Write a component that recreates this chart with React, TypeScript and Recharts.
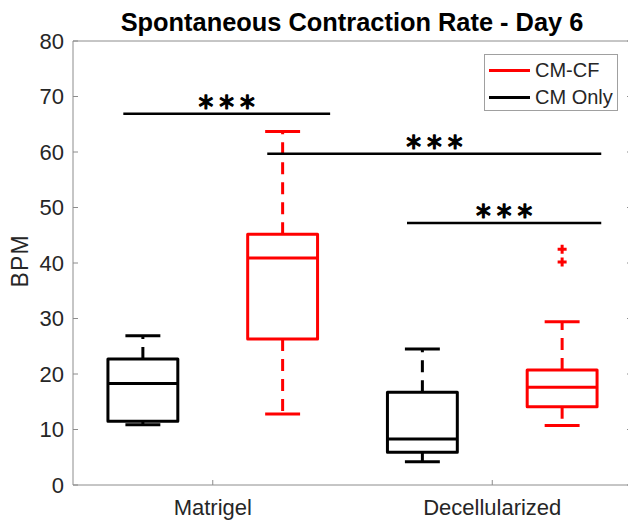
import React from 'react';
import {
  ComposedChart,
  XAxis,
  YAxis,
  ReferenceArea,
  ReferenceLine,
  ReferenceDot,
  Legend,
  Customized,
} from 'recharts';

// ---------- data ----------
const categories = ['Matrigel', 'Decellularized'];
const seriesNames = ['CM-CF', 'CM Only'];
const seriesColors = ['#ff0000', '#000000'];

// CM Only (black) box statistics per category
const cmOnlyMin = [10.85, 4.2];
const cmOnlyQ1 = [11.5, 5.9];
const cmOnlyMedian = [18.3, 8.3];
const cmOnlyQ3 = [22.7, 16.7];
const cmOnlyMax = [26.9, 24.5];
const cmOnlyOutliers: number[][] = [[], []];

// CM-CF (red) box statistics per category
const cmcfMin = [12.8, 10.7];
const cmcfQ1 = [26.3, 14.1];
const cmcfMedian = [40.9, 17.6];
const cmcfQ3 = [45.2, 20.7];
const cmcfMax = [63.7, 29.4];
const cmcfOutliers: number[][] = [[], [40.2, 42.5]];

const yTicks = [0, 10, 20, 30, 40, 50, 60, 70, 80];

// significance bars
const sigY = [66.9, 59.7, 47.2];
const sigFrom = [0.86, 1.89, 2.89];
const sigTo = [2.34, 4.28, 4.28];
const sigLabels = ['***', '***', '***'];

const FONT = 'Liberation Sans, Arial, Helvetica, sans-serif';
const AXIS_COLOR = '#8c8c8c';
const TEXT_COLOR = '#262626';
const BOX_HALF = 0.25;
const CAP_HALF = 0.125;

type Box = {
  pos: number;
  color: string;
  min: number;
  q1: number;
  med: number;
  q3: number;
  max: number;
  outliers: number[];
};

const boxes: Box[] = [];
categories.forEach((_, g) => {
  boxes.push({
    pos: 2 * g + 1,
    color: seriesColors[1],
    min: cmOnlyMin[g],
    q1: cmOnlyQ1[g],
    med: cmOnlyMedian[g],
    q3: cmOnlyQ3[g],
    max: cmOnlyMax[g],
    outliers: cmOnlyOutliers[g],
  });
  boxes.push({
    pos: 2 * g + 2,
    color: seriesColors[0],
    min: cmcfMin[g],
    q1: cmcfQ1[g],
    med: cmcfMedian[g],
    q3: cmcfQ3[g],
    max: cmcfMax[g],
    outliers: cmcfOutliers[g],
  });
});

const catTicks = categories.map((_, g) => 2 * g + 1.5);

const BottomTick = (props: any) => {
  const { x, y, payload } = props;
  const idx = Math.round((payload.value - 1.5) / 2);
  return (
    <g>
      <line x1={x} x2={x} y1={y} y2={y - 5} stroke={AXIS_COLOR} strokeWidth={1} />
      <text
        x={x}
        y={y + 30}
        textAnchor="middle"
        fontFamily={FONT}
        fontSize={22}
        fill={TEXT_COLOR}
      >
        {categories[idx]}
      </text>
    </g>
  );
};

const TopTick = (props: any) => {
  const { x, y } = props;
  return <line x1={x} x2={x} y1={y} y2={y + 5} stroke={AXIS_COLOR} strokeWidth={1} />;
};

const LeftTick = (props: any) => {
  const { x, y, payload } = props;
  return (
    <g>
      <line x1={x} x2={x + 5} y1={y} y2={y} stroke={AXIS_COLOR} strokeWidth={1} />
      <text
        x={x - 9}
        y={y}
        dy="0.36em"
        textAnchor="end"
        fontFamily={FONT}
        fontSize={22}
        fill={TEXT_COLOR}
      >
        {payload.value}
      </text>
    </g>
  );
};

const RightTick = (props: any) => {
  const { x, y } = props;
  return <line x1={x - 5} x2={x} y1={y} y2={y} stroke={AXIS_COLOR} strokeWidth={1} />;
};

const makeStarLabel = (text: string) => (props: any) => {
  const vb = props.viewBox || {};
  const cx = (vb.x || 0) + (vb.width || 0) / 2;
  const cy = vb.y || 0;
  return (
    <text
      x={cx + 3}
      y={cy + 3.3}
      textAnchor="middle"
      fontFamily="DejaVu Sans, sans-serif"
      fontSize={29.5}
      letterSpacing={6}
      fill="#000"
      stroke="#000"
      strokeWidth={1.3}
      strokeLinejoin="round"
    >
      {text}
    </text>
  );
};

const PlusShape = (props: any) => {
  const { cx, cy, fill } = props;
  return (
    <path
      d={`M${cx - 4.5},${cy}H${cx + 4.5}M${cx},${cy - 4.5}V${cy + 4.5}`}
      stroke={fill}
      strokeWidth={3}
      fill="none"
    />
  );
};

const LegendContent = () => (
  <div
    style={{
      position: 'relative',
      width: 134,
      height: 57,
      boxSizing: 'border-box',
      border: '1px solid #a0a0a0',
      background: '#fff',
      fontFamily: FONT,
      fontSize: 20,
      color: TEXT_COLOR,
    }}
  >
    {seriesNames.map((name, i) => (
      <div
        key={name}
        style={{
          position: 'absolute',
          left: 4,
          top: i === 0 ? 3 : 30,
          height: 24,
          display: 'flex',
          alignItems: 'center',
          whiteSpace: 'nowrap',
        }}
      >
        <div style={{ width: 41, height: 3, background: seriesColors[i], marginRight: 5 }} />
        <span style={{ lineHeight: '24px' }}>{name}</span>
      </div>
    ))}
  </div>
);

const Title = () => (
  <g>
    <text
      x={352}
      y={31}
      textAnchor="middle"
      fontFamily={FONT}
      fontWeight="bold"
      fontSize={25.4}
      fill="#000"
    >
      Spontaneous Contraction Rate - Day 6
    </text>
    <text
      transform="translate(27.5,260.8) rotate(-90)"
      x={0}
      y={0}
      textAnchor="middle"
      fontFamily={FONT}
      fontSize={23}
      letterSpacing={1.2}
      fill={TEXT_COLOR}
    >
      BPM
    </text>
  </g>
);

export default function App() {
  return (
    <div
      style={{
        position: 'absolute',
        left: 0,
        top: 0,
        width: 628,
        height: 520,
        overflow: 'hidden',
        background: '#fff',
      }}
    >
      <ComposedChart
        width={640}
        height={520}
        margin={{ top: 40, right: 7, bottom: 34, left: 0 }}
      >
        <XAxis
          xAxisId={0}
          type="number"
          dataKey="x"
          domain={[0.5, 4.5]}
          ticks={catTicks}
          allowDataOverflow
          height={1}
          tickSize={0}
          tickMargin={0}
          tickLine={false}
          tick={<BottomTick />}
          axisLine={{ stroke: AXIS_COLOR, strokeWidth: 1 }}
          interval={0}
        />
        <XAxis
          xAxisId="top"
          orientation="top"
          type="number"
          domain={[0.5, 4.5]}
          ticks={catTicks}
          allowDataOverflow
          height={1}
          tickSize={0}
          tickMargin={0}
          tickLine={false}
          tick={<TopTick />}
          axisLine={{ stroke: AXIS_COLOR, strokeWidth: 1 }}
          interval={0}
        />
        <YAxis
          yAxisId={0}
          type="number"
          domain={[0, 80]}
          ticks={yTicks}
          allowDataOverflow
          width={73}
          tickSize={0}
          tickMargin={0}
          tickLine={false}
          tick={<LeftTick />}
          axisLine={{ stroke: AXIS_COLOR, strokeWidth: 1 }}
          interval={0}
        />
        <YAxis
          yAxisId="right"
          orientation="right"
          type="number"
          domain={[0, 80]}
          ticks={yTicks}
          allowDataOverflow
          width={1}
          tickSize={0}
          tickMargin={0}
          tickLine={false}
          tick={<RightTick />}
          axisLine={{ stroke: AXIS_COLOR, strokeWidth: 1 }}
          interval={0}
        />

        {boxes.map((b, i) => (
          <ReferenceLine
            key={`wu${i}`}
            segment={[
              { x: b.pos, y: b.q3 },
              { x: b.pos, y: b.max },
            ]}
            stroke={b.color}
            strokeWidth={3}
            strokeDasharray="12 8"
          />
        ))}
        {boxes.map((b, i) => (
          <ReferenceLine
            key={`wl${i}`}
            segment={[
              { x: b.pos, y: b.q1 },
              { x: b.pos, y: b.min },
            ]}
            stroke={b.color}
            strokeWidth={3}
            strokeDasharray="12 8"
          />
        ))}
        {boxes.map((b, i) => (
          <ReferenceLine
            key={`cu${i}`}
            segment={[
              { x: b.pos - CAP_HALF, y: b.max },
              { x: b.pos + CAP_HALF, y: b.max },
            ]}
            stroke={b.color}
            strokeWidth={3}
          />
        ))}
        {boxes.map((b, i) => (
          <ReferenceLine
            key={`cl${i}`}
            segment={[
              { x: b.pos - CAP_HALF, y: b.min },
              { x: b.pos + CAP_HALF, y: b.min },
            ]}
            stroke={b.color}
            strokeWidth={3}
          />
        ))}
        {boxes.map((b, i) => (
          <ReferenceArea
            key={`bx${i}`}
            x1={b.pos - BOX_HALF}
            x2={b.pos + BOX_HALF}
            y1={b.q1}
            y2={b.q3}
            fill="#fff"
            fillOpacity={0}
            stroke={b.color}
            strokeWidth={3}
            strokeLinejoin="round"
          />
        ))}
        {boxes.map((b, i) => (
          <ReferenceLine
            key={`md${i}`}
            segment={[
              { x: b.pos - BOX_HALF, y: b.med },
              { x: b.pos + BOX_HALF, y: b.med },
            ]}
            stroke={b.color}
            strokeWidth={3}
          />
        ))}
        {boxes.flatMap((b, i) =>
          b.outliers.map((v, j) => (
            <ReferenceDot
              key={`o${i}-${j}`}
              x={b.pos}
              y={v}
              r={4.5}
              fill={b.color}
              shape={<PlusShape />}
            />
          ))
        )}
        {sigY.map((y, i) => (
          <ReferenceLine
            key={`sig${i}`}
            segment={[
              { x: sigFrom[i], y },
              { x: sigTo[i], y },
            ]}
            stroke="#000"
            strokeWidth={2.5}
            label={makeStarLabel(sigLabels[i])}
          />
        ))}

        <Legend
          layout="horizontal"
          verticalAlign="middle"
          align="center"
          content={<LegendContent />}
          wrapperStyle={{ position: 'absolute', left: 484, top: 54, width: 134, height: 57 }}
        />
        <Customized component={<Title />} />
      </ComposedChart>
    </div>
  );
}
